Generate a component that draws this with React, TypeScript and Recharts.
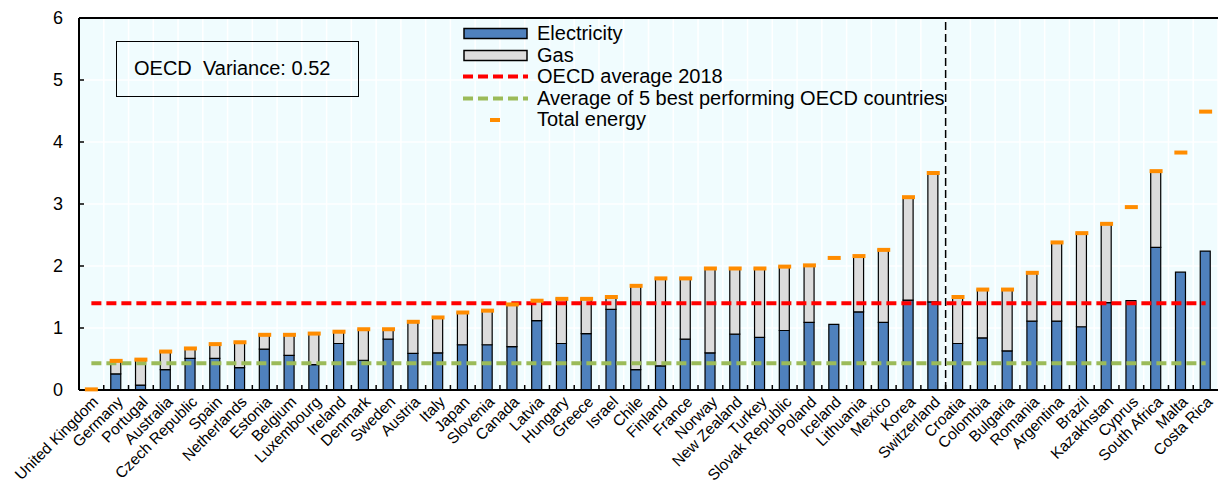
import React from 'react';
import { ComposedChart, Bar, Line, XAxis, YAxis, CartesianGrid, ReferenceLine, Legend } from 'recharts';

document.body.style.margin = '0';

const FONT = '"Liberation Sans", Arial, sans-serif';
const ELEC = '#4F81BD';
const GAS = '#DCDCDC';
const ORANGE = '#FF8C00';
const RED = '#FF0000';
const GREEN = '#9BBB59';
const BG = '#F0FCFE';

const countries = [
  'United Kingdom', 'Germany', 'Portugal', 'Australia', 'Czech Republic', 'Spain', 'Netherlands',
  'Estonia', 'Belgium', 'Luxembourg', 'Ireland', 'Denmark', 'Sweden', 'Austria', 'Italy', 'Japan',
  'Slovenia', 'Canada', 'Latvia', 'Hungary', 'Greece', 'Israel', 'Chile', 'Finland', 'France',
  'Norway', 'New Zealand', 'Turkey', 'Slovak Republic', 'Poland', 'Iceland', 'Lithuania', 'Mexico',
  'Korea', 'Switzerland', 'Croatia', 'Colombia', 'Bulgaria', 'Romania', 'Argentina', 'Brazil',
  'Kazakhstan', 'Cyprus', 'South Africa', 'Malta', 'Costa Rica',
];

const electricity = [
  0, 0.26, 0.08, 0.33, 0.51, 0.51, 0.36, 0.66, 0.56, 0.41, 0.75, 0.48, 0.82, 0.59, 0.60, 0.73,
  0.73, 0.70, 1.12, 0.75, 0.91, 1.30, 0.33, 0.39, 0.82, 0.60, 0.90, 0.85, 0.96, 1.09, 1.06, 1.26,
  1.09, 1.45, 1.42, 0.75, 0.84, 0.63, 1.11, 1.11, 1.02, 1.41, 1.44, 2.30, 1.90, 2.24,
];

const gas = [
  0, 0.21, 0.41, 0.29, 0.16, 0.23, 0.41, 0.23, 0.33, 0.50, 0.19, 0.50, 0.16, 0.51, 0.57, 0.52,
  0.55, 0.68, 0.32, 0.72, 0.56, 0.20, 1.35, 1.41, 0.98, 1.36, 1.06, 1.11, 1.03, 0.92, 0, 0.90,
  1.17, 1.66, 2.08, 0.75, 0.78, 0.99, 0.78, 1.27, 1.51, 1.27, 0, 1.23, 0, 0,
];

const totalEnergy = [
  0.01, 0.47, 0.49, 0.62, 0.67, 0.74, 0.77, 0.89, 0.89, 0.91, 0.94, 0.98, 0.98, 1.10, 1.17, 1.25,
  1.28, 1.38, 1.44, 1.47, 1.47, 1.50, 1.68, 1.80, 1.80, 1.96, 1.96, 1.96, 1.99, 2.01, 2.13, 2.16,
  2.26, 3.11, 3.50, 1.50, 1.62, 1.62, 1.89, 2.38, 2.53, 2.68, 2.95, 3.53, 3.83, 4.49,
];

const OECD_AVG = 1.4;
const BEST5_AVG = 0.43;
const yTicks = [0, 1, 2, 3, 4, 5, 6];

const data = countries.map((country, i) => ({
  country,
  electricity: electricity[i],
  gas: gas[i],
  total: totalEnergy[i],
}));

const XTick = (props: any) => {
  const { x, y, payload } = props;
  const half = payload && payload.offset ? payload.offset : 12.38;
  const tx = x + 4;
  const ty = y + 9;
  return (
    <g>
      <line x1={x - half} x2={x - half} y1={y} y2={y - 5} stroke="#000" strokeWidth={1.5} />
      <text
        x={tx}
        y={ty}
        dy="0.35em"
        transform={`rotate(-45, ${tx}, ${ty})`}
        textAnchor="end"
        fontSize={15.5}
        fontFamily={FONT}
        fill="#000"
      >
        {payload.value}
      </text>
    </g>
  );
};

const YTick = (props: any) => {
  const { x, y, payload } = props;
  return (
    <g>
      <line x1={x} x2={x + 5} y1={y} y2={y} stroke="#000" strokeWidth={1.5} />
      <text x={x - 16} y={y} dy="0.35em" textAnchor="end" fontSize={18} fontFamily={FONT} fill="#000">
        {payload.value}
      </text>
    </g>
  );
};

const TotalDash = (props: any) => {
  const { cx, cy } = props;
  if (cx == null || cy == null) return null;
  return <rect x={cx - 6.5} y={cy - 2} width={13} height={4} fill={ORANGE} />;
};

const legendRows = [
  { label: 'Electricity', kind: 'bar', color: ELEC },
  { label: 'Gas', kind: 'bar', color: GAS },
  { label: 'OECD average 2018', kind: 'dash', color: RED },
  { label: 'Average of 5 best performing OECD countries', kind: 'dash', color: GREEN },
  { label: 'Total energy', kind: 'marker', color: ORANGE },
];

const renderLegend = () => (
  <div style={{ fontFamily: FONT, fontSize: 20, color: '#000' }}>
    {legendRows.map((r) => (
      <div key={r.label} style={{ display: 'flex', alignItems: 'center', height: 21.5, whiteSpace: 'nowrap' }}>
        <svg width={74} height={21} style={{ flex: 'none' }}>
          {r.kind === 'bar' && (
            <rect x={1} y={5.5} width={63} height={10} fill={r.color} stroke="#000" strokeWidth={1.5} />
          )}
          {r.kind === 'dash' && (
            <line x1={0} x2={65} y1={10.5} y2={10.5} stroke={r.color} strokeWidth={4} strokeDasharray="10 5" />
          )}
          {r.kind === 'marker' && <rect x={27} y={9} width={10} height={4} fill={r.color} />}
        </svg>
        <span>{r.label}</span>
      </div>
    ))}
  </div>
);

export default function App() {
  const n = countries.length;
  return (
    <div style={{ position: 'relative', width: 1218, height: 483, background: '#fff' }}>
      <ComposedChart
        width={1218}
        height={483}
        data={data}
        margin={{ top: 18, right: 0, left: 0, bottom: 0 }}
        style={{ fontFamily: FONT }}
      >
        <CartesianGrid
          fill={BG}
          fillOpacity={1}
          stroke="#FFFFFF"
          strokeWidth={1.5}
          verticalCoordinatesGenerator={({ offset }: any) =>
            Array.from({ length: n + 1 }, (_, i) => offset.left + (i * offset.width) / n)
          }
        />
        <XAxis
          dataKey="country"
          interval={0}
          height={93}
          tickSize={0}
          tickMargin={0}
          tickLine={false}
          axisLine={{ stroke: '#000', strokeWidth: 2 }}
          tick={<XTick />}
        />
        <YAxis
          width={79}
          domain={[0, 6]}
          ticks={yTicks}
          tickSize={0}
          tickMargin={0}
          tickLine={false}
          axisLine={{ stroke: '#000', strokeWidth: 2 }}
          tick={<YTick />}
        />
        <Legend
          layout="vertical"
          align="center"
          verticalAlign="middle"
          content={renderLegend}
          wrapperStyle={{ top: 23, left: 463, width: 520 }}
        />
        <Bar dataKey="electricity" stackId="a" barSize={10} fill={ELEC} stroke="#000" strokeWidth={1.2} isAnimationActive={false} />
        <Bar dataKey="gas" stackId="a" barSize={10} fill={GAS} stroke="#000" strokeWidth={1.2} isAnimationActive={false} />
        <ReferenceLine y={6} stroke="#000" strokeWidth={2} />
        <ReferenceLine x="Switzerland" position="end" stroke="#000" strokeWidth={1.5} strokeDasharray="8 4" />
        <ReferenceLine
          segment={[{ x: countries[0], y: OECD_AVG }, { x: countries[n - 1], y: OECD_AVG }]}
          stroke={RED}
          strokeWidth={4}
          strokeDasharray="10 5"
        />
        <ReferenceLine
          segment={[{ x: countries[0], y: BEST5_AVG }, { x: countries[n - 1], y: BEST5_AVG }]}
          stroke={GREEN}
          strokeWidth={4}
          strokeDasharray="10 5"
        />
        <Line
          dataKey="total"
          stroke="none"
          dot={<TotalDash />}
          activeDot={false}
          legendType="none"
          isAnimationActive={false}
        />
      </ComposedChart>
      <div
        style={{
          position: 'absolute',
          left: 116,
          top: 41,
          width: 243,
          height: 56,
          boxSizing: 'border-box',
          border: '1.5px solid #000',
          fontFamily: FONT,
          fontSize: 20,
          lineHeight: '53px',
          paddingLeft: 17,
          whiteSpace: 'pre',
          color: '#000',
        }}
      >
        {'OECD  Variance: 0.52'}
      </div>
    </div>
  );
}
